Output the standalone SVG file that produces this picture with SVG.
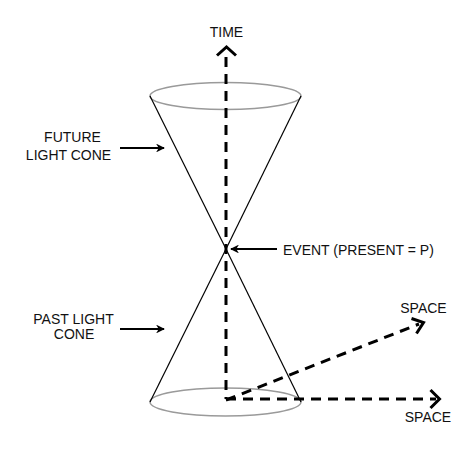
<svg xmlns="http://www.w3.org/2000/svg" width="474" height="473" viewBox="0 0 474 473">
<defs>
<marker id="tri" viewBox="0 0 10 10" refX="9" refY="5" markerWidth="4" markerHeight="4" orient="auto" markerUnits="strokeWidth">
<path d="M0,0 L10,5 L0,10 L3,5 Z" fill="#000"/>
</marker>
</defs>
<style>
.lbl{font-family:"Liberation Sans",Arial,sans-serif;font-size:14px;fill:#111}
.rim{fill:none;stroke:#9a9a9a;stroke-width:1.5}
.cone{stroke:#000;stroke-width:1.2;fill:none}
.axis{stroke:#000;stroke-width:3;fill:none;stroke-dasharray:10 7}
.head{stroke:#000;stroke-width:3;fill:none;stroke-linecap:butt;stroke-linejoin:miter}
.ptr{stroke:#000;stroke-width:2.2;fill:none;marker-end:url(#tri)}
</style>
<rect width="474" height="473" fill="#fff"/>
<g id="future-cone">
<ellipse class="rim" cx="225.5" cy="96" rx="75.5" ry="13.5"/>
<line class="cone" x1="150" y1="96" x2="226" y2="249"/>
<line class="cone" x1="301" y1="96" x2="226" y2="249"/>
</g>
<g id="past-cone">
<ellipse class="rim" cx="225.5" cy="402" rx="75.5" ry="14"/>
<line class="cone" x1="226" y1="249" x2="150" y2="402"/>
<line class="cone" x1="226" y1="249" x2="301" y2="402"/>
</g>
<g id="connectors">
<line class="axis" x1="226" y1="57" x2="226" y2="399"/>
<polyline class="head" points="217,55.5 226.5,47 236,55.5"/>
<line class="axis" x1="226" y1="399" x2="436" y2="399"/>
<polyline class="head" points="430.5,390 439.5,399 430.5,408"/>
<line class="axis" x1="226" y1="400" x2="419" y2="324"/>
<polyline class="head" points="411.5,318.5 423.5,322.5 416.5,333.5"/>
<line class="ptr" x1="120" y1="148" x2="164" y2="148"/>
<line class="ptr" x1="120" y1="329" x2="164" y2="329"/>
<line class="ptr" x1="277" y1="249" x2="231" y2="249"/>
</g>
<g id="time-label"><text class="lbl" x="226.5" y="37" text-anchor="middle">TIME</text></g>
<g id="future-label"><text class="lbl" x="72.5" y="142" text-anchor="middle">FUTURE</text><text class="lbl" x="68.5" y="159.5" text-anchor="middle">LIGHT CONE</text></g>
<g id="past-label"><text class="lbl" x="73.5" y="323.5" text-anchor="middle">PAST LIGHT</text><text class="lbl" x="74" y="338.5" text-anchor="middle">CONE</text></g>
<g id="event-label"><text class="lbl" x="283" y="254.5">EVENT (PRESENT = P)</text></g>
<g id="space-labels"><text class="lbl" x="423.5" y="312.5" text-anchor="middle">SPACE</text><text class="lbl" x="428" y="422" text-anchor="middle">SPACE</text></g>
</svg>
